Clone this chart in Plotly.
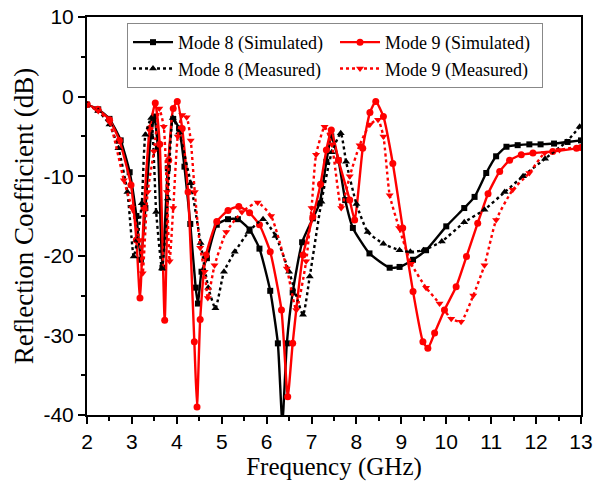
import plotly.graph_objects as go

# Mode 8 (Simulated)
m8s_f = [2.0, 2.25, 2.5, 2.75, 2.95, 3.1, 3.2, 3.3, 3.42, 3.5, 3.58, 3.68, 3.8, 3.92, 4.05, 4.17, 4.3, 4.42, 4.47, 4.55,
         4.67, 4.89, 5.14, 5.36, 5.62, 5.84, 6.08, 6.25, 6.35, 6.45, 6.58, 6.79, 7.03, 7.18, 7.33, 7.44, 7.6, 7.75, 7.92, 8.29,
         8.74, 8.96, 9.26, 9.55, 10.0, 10.4, 10.63, 10.89, 11.11, 11.34, 11.59, 11.85, 12.1, 12.4, 12.7, 13.0]
m8s_v = [-1.0, -1.6, -2.8, -5.5, -9.5, -15, -20.5, -14, -5, -2.5, -6.5, -21.5, -9, -2.8, -4, -8.8, -16, -24, -26, -22,
         -20.3, -16.1, -15.4, -15.4, -16.7, -19.1, -24.4, -31, -41, -31, -24.6, -18.3, -15.3, -13.4, -8.2, -5.0, -8, -13, -16.5, -19.7,
         -21.5, -21.4, -20.5, -19.3, -16.3, -14, -12.6, -9.6, -7.5, -6.3, -6.1, -6.0, -6.0, -5.9, -5.7, -5.5]

# Mode 9 (Simulated)
m9s_f = [2.0, 2.24, 2.5, 2.72, 2.98, 3.1, 3.18, 3.27, 3.4, 3.52, 3.62, 3.73, 3.82, 3.92, 4.01, 4.12, 4.25, 4.39, 4.45, 4.52,
         4.65, 4.89, 5.14, 5.38, 5.62, 5.84, 6.08, 6.33, 6.47, 6.58, 6.81, 7.03, 7.2, 7.33, 7.44, 7.6, 7.85, 7.96, 8.14, 8.3,
         8.43, 8.6, 8.81, 9.03, 9.26, 9.48, 9.59, 9.74, 9.96, 10.22, 10.45, 10.7, 10.93, 11.19, 11.41, 11.67, 11.93, 12.37, 12.9, 13.0]
m9s_v = [-1.0, -1.6, -2.9, -5.5, -11.1, -18, -25.3, -14, -4, -0.8, -6, -28.1, -8, -1.5, -0.6, -4, -12, -30.8, -39, -28,
         -19.9, -15.7, -14.3, -13.8, -14.6, -16.1, -19.5, -26.8, -37.7, -31, -19.9, -15.1, -11, -6.7, -4.2, -8, -13, -15.5, -6.5, -2,
         -0.6, -2.5, -8.4, -16.5, -24.5, -30.8, -31.6, -29.7, -26.8, -23.9, -20.1, -15.9, -12.2, -9.4, -8.0, -7.3, -7.1, -6.9, -6.5, -6.4]

# Mode 8 (Measured)
m8m_f = [2.0, 2.25, 2.5, 2.7, 2.9, 3.04, 3.12, 3.22, 3.30, 3.43, 3.54, 3.67, 3.80, 3.91, 4.05, 4.31, 4.53, 4.70, 4.86, 5.05,
         5.29, 5.6, 5.92, 6.2, 6.5, 6.81, 6.96, 7.22, 7.45, 7.65, 7.77, 8.0, 8.25, 8.6, 8.96, 9.2, 9.49, 9.9, 10.4, 10.85,
         11.3, 11.71, 12.2, 12.67, 12.97]
m8m_v = [-1.0, -1.8, -3.5, -6.5, -12, -20.1, -18, -13.4, -4.8, -2.7, -14.5, -21.6, -12.8, -2.7, -4.5, -10.9, -18.4, -24, -26.6, -22,
         -19.5, -17, -15.4, -17.5, -22, -27.4, -22.6, -13.2, -7, -4.6, -8.2, -13.5, -17, -18.5, -19.3, -19.5, -19.3, -18.2, -15.8, -14.2,
         -12, -10, -7.8, -5.7, -3.8]

# Mode 9 (Measured)
m9m_f = [2.0, 2.25, 2.5, 2.82, 3.0, 3.17, 3.24, 3.35, 3.49, 3.61, 3.71, 3.78, 3.84, 3.92, 4.02, 4.12, 4.22, 4.31, 4.4, 4.52,
         4.62, 4.69, 4.84, 5.1, 5.45, 5.8, 6.1, 6.45, 6.66, 6.88, 7.0, 7.1, 7.29, 7.45, 7.66, 7.85, 8.07, 8.3, 8.48, 8.6,
         8.74, 8.95, 9.22, 9.55, 9.85, 10.11, 10.33, 10.6, 10.85, 11.11, 11.48, 11.85, 12.19, 12.52, 12.97]
m9m_v = [-1.0, -1.8, -3.2, -10.5, -14, -18, -22.2, -12, -6.9, -1.5, -3.8, -12, -20.7, -14, -5, -2.3, -2.6, -5.5, -12, -19,
         -22, -25.3, -21.2, -17, -14.5, -13.3, -15, -21.6, -26.8, -20.7, -14, -7.3, -3.8, -6, -14, -10, -6.1, -3.5, -2.9, -5,
         -12.4, -16.5, -21, -24, -26, -27.9, -28.3, -25, -21.2, -15.5, -11.7, -9.6, -7.1, -6.7, -6.3]

x_ticks = list(range(2, 14))
y_ticks = [10, 0, -10, -20, -30, -40]

BLACK = "#000000"
RED = "#ff0000"

fig = go.Figure()
fig.add_trace(go.Scatter(x=m8s_f, y=m8s_v, mode="lines+markers", name="Mode 8 (Simulated)",
                         line=dict(color=BLACK, width=2.4, shape="spline", smoothing=0.5),
                         marker=dict(symbol="square", size=6, color=BLACK)))
fig.add_trace(go.Scatter(x=m9s_f, y=m9s_v, mode="lines+markers", name="Mode 9 (Simulated)",
                         line=dict(color=RED, width=2.4, shape="spline", smoothing=0.5),
                         marker=dict(symbol="circle", size=7, color=RED)))
fig.add_trace(go.Scatter(x=m8m_f, y=m8m_v, mode="lines+markers", name="Mode 8 (Measured)",
                         line=dict(color=BLACK, width=2.4, dash="dot", shape="spline", smoothing=0.5),
                         marker=dict(symbol="triangle-up", size=7, color=BLACK)))
fig.add_trace(go.Scatter(x=m9m_f, y=m9m_v, mode="lines+markers", name="Mode 9 (Measured)",
                         line=dict(color=RED, width=2.4, dash="dot", shape="spline", smoothing=0.5),
                         marker=dict(symbol="triangle-down", size=7, color=RED)))

axis_common = dict(showline=True, linecolor="black", linewidth=2, mirror=True,
                   ticks="outside", ticklen=7, tickwidth=2, tickcolor="black",
                   showgrid=False, zeroline=False,
                   tickfont=dict(family="Liberation Sans, Arial", size=21, color="black"))

fig.update_xaxes(range=[2, 13], tickmode="array", tickvals=x_ticks, ticktext=[str(t) for t in x_ticks],
                 minor=dict(dtick=0.5, ticks="outside", ticklen=4, tickwidth=2, tickcolor="black"),
                 title=dict(text="Frequency (GHz)", font=dict(family="Liberation Serif, Times New Roman", size=25, color="black"),
                            standoff=0),
                 **axis_common)
fig.update_yaxes(range=[-40, 10], tickmode="array", tickvals=y_ticks, ticktext=[str(t) for t in y_ticks],
                 minor=dict(dtick=5, ticks="outside", ticklen=4, tickwidth=2, tickcolor="black"),
                 title=dict(text="Reflection Coefficient (dB)", font=dict(family="Liberation Serif, Times New Roman", size=27, color="black"),
                            standoff=2),
                 **axis_common)

fig.update_layout(
    width=601, height=485,
    margin=dict(l=87, r=20, t=17, b=70, autoexpand=False),
    plot_bgcolor="white", paper_bgcolor="white",
    legend=dict(orientation="h", x=0.081, y=0.985, xanchor="left", yanchor="top",
                entrywidth=152, entrywidthmode="pixels",
                font=dict(family="Liberation Serif, Times New Roman", size=18, color="black"),
                bordercolor="#888888", borderwidth=1, bgcolor="white",
                tracegroupgap=0, itemwidth=40),
    showlegend=True,
)

fig.write_html("out.html", config={"displayModeBar": False},
               post_script="document.body.style.margin='0px';")
